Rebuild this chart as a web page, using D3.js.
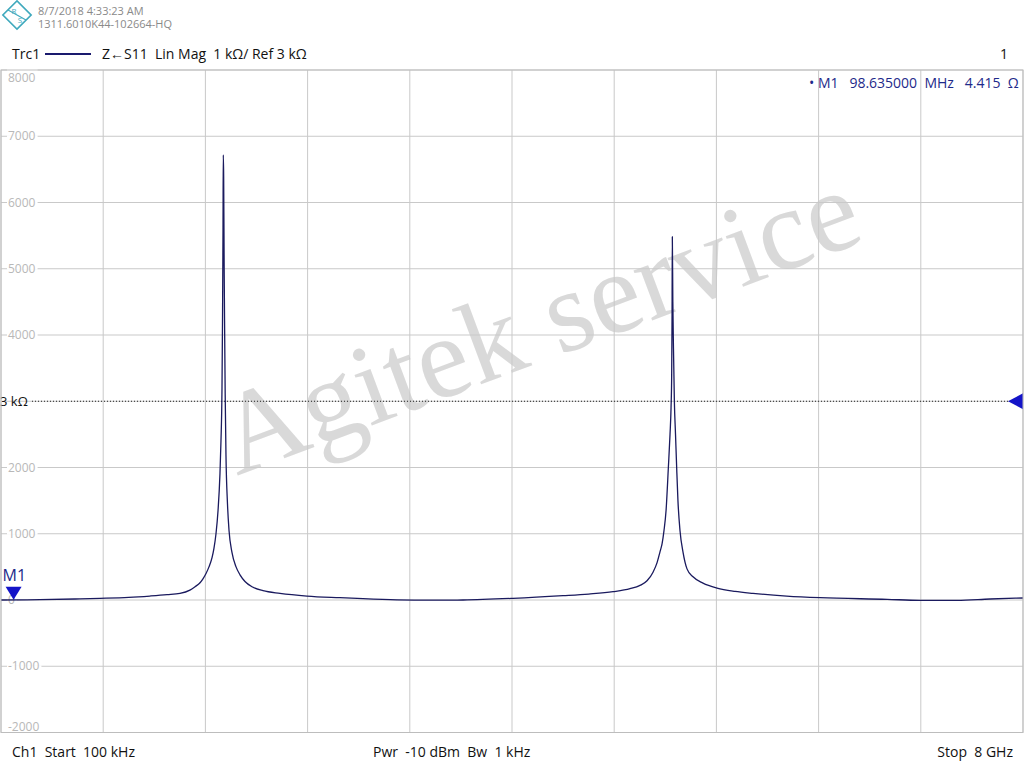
<!DOCTYPE html>
<html><head><meta charset="utf-8">
<script src="https://cdn.jsdelivr.net/npm/d3@7/dist/d3.min.js"></script>
<style>
html,body{margin:0;padding:0;background:#fff;}
svg{display:block;font-family:"Open Sans","Noto Sans",sans-serif;}
</style></head>
<body><svg id="chart" width="1024" height="768"></svg>
<script>
// ---- data (frequency in MHz, |Z| in ohm) ----
const freqMHz = [0.1, 305, 579, 775, 1000, 1166, 1300, 1401, 1479, 1519, 1558, 1581, 1605, 1628, 1652, 1667, 1683, 1699, 1714, 1722, 1730, 1734, 1738, 1740, 1743, 1747, 1751, 1755, 1761, 1773, 1785, 1808, 1840, 1871, 1910, 1965, 2051, 2184, 2395, 2653, 2834, 3100, 3358, 3617, 4008, 4399, 4600, 4791, 4924, 5002, 5057, 5104, 5135, 5159, 5175, 5190, 5206, 5224, 5237, 5245, 5250, 5253, 5255, 5259, 5264, 5271, 5280, 5289, 5299, 5315, 5339, 5370, 5417, 5495, 5605, 5746, 5887, 6150, 6411, 6936, 7194, 7484, 7742, 8000];
const impedanceOhm = [0, 5, 15, 25, 40, 60, 80, 100, 150, 200, 260, 320, 400, 500, 640, 780, 1000, 1350, 1900, 2400, 3200, 4200, 5600, 6717, 6400, 5000, 4000, 3100, 2200, 1450, 1050, 720, 500, 380, 280, 200, 140, 100, 60, 35, 20, 3, -3, 0, 25, 65, 90, 125, 170, 220, 290, 420, 560, 730, 850, 1050, 1350, 2000, 2500, 2900, 3400, 4300, 5484, 4500, 3800, 3000, 2500, 2000, 1500, 1050, 720, 470, 350, 255, 180, 130, 100, 60, 35, 10, -5, -5, 15, 30];
const yTicks = [8000, 7000, 6000, 5000, 4000, 3000, 2000, 1000, 0, -1000, -2000];
const xDivisions = 10;
const startMHz = 0.1, stopMHz = 8000;
const refOhm = 3000;
const marker = {name: "M1", freq: 98.635, value: 4.415};

const svg = d3.select("#chart");
const L = 1, R = 1023, T = 70, B = 732.5;
const x = d3.scaleLinear().domain([startMHz, stopMHz]).range([L, R]);
const y = d3.scaleLinear().domain([-2000, 8000]).range([B, T]);

// R&S logo
const logo = svg.append("g").attr("transform", "translate(17,15)");
logo.append("rect").attr("x", -10).attr("y", -10).attr("width", 20).attr("height", 20)
  .attr("transform", "rotate(45)").attr("fill", "none").attr("stroke", "#3fa9bd").attr("stroke-width", 1.6);
logo.append("line").attr("x1", -9).attr("y1", -5).attr("x2", 9).attr("y2", 5).attr("stroke", "#3fa9bd").attr("stroke-width", 1.2);
logo.append("text").attr("x", -3).attr("y", -1).attr("font-size", 8).attr("fill", "#3fa9bd").attr("text-anchor", "middle").text("R");
logo.append("text").attr("x", 3).attr("y", 8).attr("font-size", 8).attr("fill", "#3fa9bd").attr("text-anchor", "middle").text("S");

svg.append("text").attr("x", 38).attr("y", 15).attr("font-size", 11).attr("fill", "#8a8a8a").text("8/7/2018 4:33:23 AM");
svg.append("text").attr("x", 38).attr("y", 28).attr("font-size", 11).attr("fill", "#8a8a8a").text("1311.6010K44-102664-HQ");

// header
svg.append("text").attr("x", 12).attr("y", 59).attr("font-size", 14).attr("fill", "#111").text("Trc1");
svg.append("line").attr("x1", 45).attr("x2", 91).attr("y1", 54).attr("y2", 54).attr("stroke", "#1a1a6e").attr("stroke-width", 2);
svg.append("text").attr("x", 102).attr("y", 59).attr("font-size", 14).attr("fill", "#111").attr("xml:space", "preserve")
  .text("Z\u2190S11  Lin Mag  1 k\u03A9/ Ref 3 k\u03A9");
svg.append("text").attr("x", 1008).attr("y", 59).attr("font-size", 14).attr("fill", "#111").attr("text-anchor", "end").text("1");

// watermark
svg.append("text").attr("transform", "translate(552,358) rotate(-20.5)")
  .attr("text-anchor", "middle").attr("font-family", "'Liberation Serif','DejaVu Serif',serif")
  .attr("font-size", 116).attr("fill", "#d2d2d2").attr("fill-opacity", 0.85).text("Agitek service");

// grid
const grid = svg.append("g");
grid.selectAll("line.h").data(yTicks).join("line")
  .attr("x1", L).attr("x2", R).attr("y1", d => y(d)).attr("y2", d => y(d))
  .attr("stroke", "#c9c9c9").attr("stroke-width", 1);
const xGrid = d3.range(xDivisions + 1).map(i => startMHz + i * (stopMHz - startMHz) / xDivisions);
grid.selectAll("line.v").data(xGrid).join("line")
  .attr("y1", T).attr("y2", B).attr("x1", d => x(d)).attr("x2", d => x(d))
  .attr("stroke", "#c9c9c9").attr("stroke-width", 1);

// tick labels (the reference level label replaces the 3000 tick)
const tl = svg.append("g");
yTicks.filter(v => v !== refOhm).forEach(v => {
  let ty = y(v);
  if (v === 8000) ty += 8;
  if (v === -2000) ty -= 6;
  const t = tl.append("text").attr("x", 8).attr("y", ty).attr("dy", "0.35em")
    .attr("font-size", 12).attr("fill", "#b8b8b8").text(v);
  const bb = t.node().getBBox();
  tl.insert("rect", "text").attr("x", bb.x - 1).attr("y", y(v) - 1).attr("width", bb.width + 3).attr("height", 2).attr("fill", "#fff");
});

// reference line
svg.append("line").attr("x1", 32).attr("x2", 1008).attr("y1", y(refOhm)).attr("y2", y(refOhm))
  .attr("stroke", "#222").attr("stroke-width", 1).attr("stroke-dasharray", "1,2");
svg.append("text").attr("x", 0).attr("y", y(refOhm)).attr("dy", "0.35em").attr("font-size", 13).attr("fill", "#111").text("3 k\u03A9");
svg.append("path").attr("d", `M${R},${y(refOhm) - 8} L${R - 15},${y(refOhm)} L${R},${y(refOhm) + 8} Z`).attr("fill", "#1414c8");

// trace
const line = d3.line().x((d, i) => x(freqMHz[i])).y(d => y(d)).curve(d3.curveMonotoneX);
svg.append("path").datum(impedanceOhm).attr("d", line).attr("fill", "none")
  .attr("stroke", "#1a1a5e").attr("stroke-width", 1.3).attr("stroke-linejoin", "round");

// marker
const mx = x(marker.freq), my = y(marker.value);
svg.append("path").attr("d", `M${mx - 8},${my - 13} L${mx + 8},${my - 13} L${mx},${my} Z`).attr("fill", "#1414c8");
svg.append("text").attr("x", mx - 11).attr("y", my - 19).attr("font-size", 16).attr("fill", "#1e2a8a").text(marker.name);

svg.append("text").attr("x", 809).attr("y", 88).attr("font-size", 14).attr("fill", "#1e2a8a").attr("xml:space", "preserve")
  .text("\u2022 M1   98.635000  MHz   4.415  \u03A9");

// plot border
svg.append("rect").attr("x", L).attr("y", T).attr("width", R - L).attr("height", B - T)
  .attr("fill", "none").attr("stroke", "#bdbdbd").attr("stroke-width", 1);

// footer
svg.append("text").attr("x", 12).attr("y", 757).attr("font-size", 14).attr("fill", "#111").attr("xml:space", "preserve").text("Ch1  Start  100 kHz");
svg.append("text").attr("x", 373).attr("y", 757).attr("font-size", 14).attr("fill", "#111").attr("xml:space", "preserve").text("Pwr  -10 dBm  Bw  1 kHz");
svg.append("text").attr("x", 1013).attr("y", 757).attr("font-size", 14).attr("fill", "#111").attr("text-anchor", "end").attr("xml:space", "preserve").text("Stop  8 GHz");
</script></body></html>
